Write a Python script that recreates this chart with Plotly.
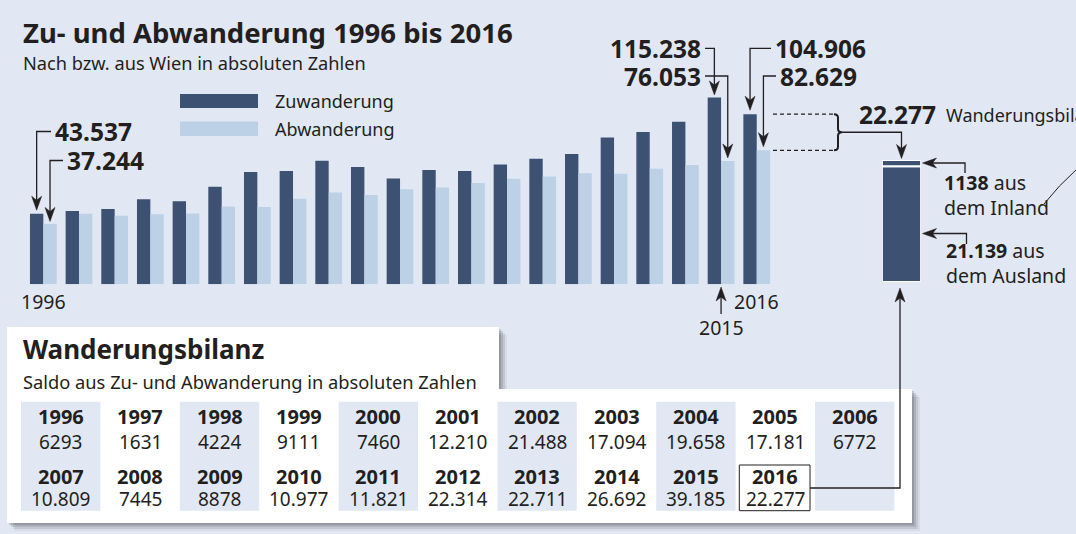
import plotly.graph_objects as go

W, H = 1076, 534

# ---------------- data ----------------
years = list(range(1996, 2017))
zuwanderung = [43537, 45190, 46420, 52380, 51140, 60180, 69220, 69840, 76200, 72300,
               65320, 70450, 69840, 73940, 77440, 80350, 90540, 93900, 100260, 115238, 104906]
abwanderung = [37244, 43560, 42200, 43270, 43680, 47970, 47730, 52750, 56540, 55120,
               58550, 59640, 62400, 65060, 66460, 68530, 68230, 71190, 73570, 76053, 82629]
saldo = [6293, 1631, 4224, 9111, 7460, 12210, 21488, 17094, 19658, 17181, 6772,
         10809, 7445, 8878, 10977, 11821, 22314, 22711, 26692, 39185, 22277]
bilanz_teile = [21139, 1138]          # aus dem Ausland, aus dem Inland
bilanz_texte = ["aus<br>dem Ausland", "aus<br>dem Inland"]
legend_labels = ["Zuwanderung", "Abwanderung"]
title = "Zu- und Abwanderung 1996 bis 2016"
subtitle = "Nach bzw. aus Wien in absoluten Zahlen"
table_title = "Wanderungsbilanz"
table_subtitle = "Saldo aus Zu- und Abwanderung in absoluten Zahlen"

# ---------------- style ----------------
BG = "#e1e8f4"
DARK = "#3d5273"
LIGHT = "#bcd0e6"
INK = "#231f20"
CELL = "#e1e8f4"
FONT = "Noto Sans"


def fmt(v):
    return f"{v:,}".replace(",", ".") if v >= 10000 else str(v)


# layout geometry (pixels)
S = 35.67      # px per year
X0 = 25.5      # pixel of x = 1995.5
B = 284.3      # baseline pixel
K = 616.7      # units per px


def xd(p):
    return 1995.5 + (p - X0) / S


def yd(p):
    return (B - p) * K


def px(p):
    return p / W


def py(p):
    return 1 - p / H


HALF = 0.1875  # offset of each bar from category centre

fig = go.Figure()
fig.add_bar(x=years, y=zuwanderung, name=legend_labels[0], hoverinfo="skip",
            marker=dict(color=DARK, line=dict(width=0)))
fig.add_bar(x=years, y=abwanderung, name=legend_labels[1], hoverinfo="skip",
            marker=dict(color=LIGHT, line=dict(width=0)))
fig.add_bar(x=[0], y=[bilanz_teile[0]], xaxis="x2", yaxis="y2", width=1, offsetgroup="b",
            hoverinfo="skip", marker=dict(color=DARK, line=dict(color="white", width=1.8)))
fig.add_bar(x=[0], y=[bilanz_teile[1]], base=[bilanz_teile[0]], xaxis="x2", yaxis="y2", width=1,
            offsetgroup="b", hoverinfo="skip",
            marker=dict(color=DARK, line=dict(color="white", width=1.8)))

shapes = []
anns = []

LW = 1.3


def dpath(pts, close=False):
    s = "M " + " L ".join(f"{x},{y}" for x, y in pts)
    return s + (" Z" if close else "")


def dline(pts):
    shapes.append(dict(type="path", xref="x", yref="y", path=dpath(pts),
                       line=dict(color=INK, width=LW)))


def pline(pts, width=LW):
    shapes.append(dict(type="path", xref="paper", yref="paper",
                       path=dpath([(px(a), py(b)) for a, b in pts]),
                       line=dict(color=INK, width=width)))


HEAD = [(0, 0), (-5, -14), (0, -10), (5, -14)]  # pointing down, pixel offsets


def rot(pts, d):
    if d == "down":
        return pts
    if d == "up":
        return [(x, -y) for x, y in pts]
    if d == "left":
        return [(-y, x) for x, y in pts]
    if d == "right":
        return [(y, x) for x, y in pts]


def dhead(xt, yt, d="down"):
    pts = [(xt + ox / S, yt - oy * K) for ox, oy in rot(HEAD, d)]
    shapes.append(dict(type="path", xref="x", yref="y", path=dpath(pts, True),
                       fillcolor=INK, line=dict(color=INK, width=0.5)))


def phead(xt, yt, d="down"):
    pts = [(px(xt + ox), py(yt + oy)) for ox, oy in rot(HEAD, d)]
    shapes.append(dict(type="path", xref="paper", yref="paper", path=dpath(pts, True),
                       fillcolor=INK, line=dict(color=INK, width=0.5)))


def ann(text, x, y, size, bold=False, xanchor="left", xref="paper", yref="paper", align="left"):
    if bold:
        text = f"<b>{text}</b>"
    anns.append(dict(text=text, x=x, y=y, xref=xref, yref=yref, xanchor=xanchor,
                     yanchor="middle", showarrow=False, align=align,
                     font=dict(family=FONT, size=size, color=INK)))


# ---- titles ----
ann(title, px(21), py(32), 27.5, bold=True)
ann(subtitle, px(21), py(63), 18.2)

# ---- legend ----
shapes.append(dict(type="rect", xref="paper", yref="paper", x0=px(180), x1=px(258),
                   y0=py(94), y1=py(108), fillcolor=DARK, line=dict(width=0)))
shapes.append(dict(type="rect", xref="paper", yref="paper", x0=px(180), x1=px(258),
                   y0=py(121.5), y1=py(136), fillcolor=LIGHT, line=dict(width=0)))
ann(legend_labels[0], px(273), py(101), 18)
ann(legend_labels[1], px(273), py(129), 18)

# ---- value callouts ----
DL = 24.5


def callout(i, series, side, label_px, label_py, gap, left=True):
    xc = years[i] + (-HALF if side == "zu" else HALF)
    v = series[i]
    tip = v + gap * K
    if left:
        start = label_px - 2
        ann(fmt(v), xd(label_px), yd(label_py), DL, bold=True, xanchor="left", xref="x", yref="y")
    else:
        start = label_px + 2
        ann(fmt(v), xd(label_px), yd(label_py), DL, bold=True, xanchor="right", xref="x", yref="y")
    dline([(xd(start), yd(label_py)), (xc, yd(label_py)), (xc, tip + 10 * K)])
    dhead(xc, tip, "down")


callout(0, zuwanderung, "zu", 53, 131.5, 3.5)
callout(0, abwanderung, "ab", 65, 160.5, 2.5)
callout(19, zuwanderung, "zu", 703, 48.3, 2.5, left=False)
callout(19, abwanderung, "ab", 703, 76, 3, left=False)
callout(20, zuwanderung, "zu", 773, 48.3, 4)
callout(20, abwanderung, "ab", 778, 76, 3.5)

# ---- year labels under bars ----
ann(str(years[0]), years[0], py(301), 19.5, xanchor="center", xref="x")
ann(str(years[-1]), years[-1], py(301), 19.5, xanchor="center", xref="x")
ann(str(years[-2]), years[-2], py(327), 19.5, xanchor="center", xref="x")
shapes.append(dict(type="path", xref="x", yref="paper",
                   path=dpath([(years[-2], py(314)), (years[-2], py(296))]),
                   line=dict(color=INK, width=LW)))
shapes.append(dict(type="path", xref="x", yref="paper",
                   path=dpath([(years[-2] + ox / S, py(287 - oy)) for ox, oy in HEAD], True),
                   fillcolor=INK, line=dict(color=INK, width=0.5)))

# ---- dashed lines + brace to balance ----
zt, at = zuwanderung[-1], abwanderung[-1]
mid = (zt + at) / 2
for yv in (zt, at):
    shapes.append(dict(type="line", xref="x", yref="y", x0=xd(773), x1=xd(834), y0=yv, y1=yv,
                       line=dict(color=INK, width=1.2, dash="4px,3px")))
r = 3.5
bx0, bxm, bxt = xd(834), xd(838), xd(842)
brace = (f"M {bx0},{zt} Q {bxm},{zt} {bxm},{zt - r * K} L {bxm},{mid + r * K} "
         f"Q {bxm},{mid} {bxt},{mid} Q {bxm},{mid} {bxm},{mid - r * K} "
         f"L {bxm},{at + r * K} Q {bxm},{at} {bx0},{at}")
shapes.append(dict(type="path", xref="x", yref="y", path=brace, line=dict(color=INK, width=2)))
dline([(bxt, mid), (xd(901.5), mid), (xd(901.5), yd(158.5) + 10 * K)])
dhead(xd(901.5), yd(158.5), "down")
ann(fmt(saldo[-1]), px(857), py(115), DL, bold=True)
ann(table_title, px(944), py(115), 18)

# ---- arrows to the balance bar parts ----
pline([(965, 173), (965, 163), (932, 163)])
phead(922.5, 163, "left")
ann(f"<b>{fmt(bilanz_teile[1])}</b> " + bilanz_texte[1], px(942), py(195), 19.5)
pline([(966.5, 244), (966.5, 233.5), (932, 233.5)])
phead(922.5, 233.5, "left")
ann(f"<b>{fmt(bilanz_teile[0])}</b> " + bilanz_texte[0], px(944), py(263.5), 19.5)
shapes.append(dict(type="path", xref="paper", yref="paper",
                   path=f"M {px(1044)},{py(204)} Q {px(1058)},{py(186)} {px(1078)},{py(168)}",
                   line=dict(color=INK, width=1)))

# ---- table box ----
box = [(7, 327), (499, 327), (499, 389), (912, 389), (912, 523), (7, 523)]
for off, op in [(8, 0.07), (6, 0.10), (4, 0.14), (2, 0.18)]:
    shapes.append(dict(type="path", xref="paper", yref="paper",
                       path=dpath([(px(a + off), py(b + off)) for a, b in box], True),
                       fillcolor=f"rgba(40,40,50,{op})", line=dict(width=0)))
shapes.append(dict(type="path", xref="paper", yref="paper",
                   path=dpath([(px(a), py(b)) for a, b in box], True),
                   fillcolor="white", line=dict(width=0)))
ann(table_title, px(21), py(349), 26, bold=True)
ann(table_subtitle, px(21), py(381), 18.3)

CW = 79.4
C0 = 21
for i in range(0, 11, 2):
    shapes.append(dict(type="rect", xref="paper", yref="paper", x0=px(C0 + CW * i),
                       x1=px(C0 + CW * (i + 1)), y0=py(401.7), y1=py(510.7),
                       fillcolor=CELL, line=dict(width=0)))
rows = [(years[:11], saldo[:11], 416, 442), (years[11:], saldo[11:], 476.5, 499)]
for yrs, vals, yy, vy in rows:
    for i, (yr, v) in enumerate(zip(yrs, vals)):
        cx = C0 + CW * (i + 0.5)
        ann(str(yr), px(cx), py(yy), 20, bold=True, xanchor="center")
        ann(fmt(v), px(cx), py(vy), 19, xanchor="center")
shapes.append(dict(type="rect", xref="paper", yref="paper", x0=px(739.3), x1=px(810),
                   y0=py(465), y1=py(510.7), line=dict(color=INK, width=1)))
pline([(810, 488), (900, 488), (900, 298)])
phead(900, 288, "up")

fig.update_layout(
    width=W, height=H, margin=dict(l=0, r=0, t=0, b=0),
    paper_bgcolor=BG, plot_bgcolor="rgba(0,0,0,0)",
    barmode="group", bargap=0.25, bargroupgap=0, showlegend=False,
    xaxis=dict(domain=[0, 1], range=[1995.5 - X0 / S, 1995.5 + (W - X0) / S], visible=False,
               fixedrange=True),
    yaxis=dict(domain=[1 - B / H, 1], range=[0, B * K], visible=False, fixedrange=True),
    xaxis2=dict(domain=[882 / W, 921 / W], range=[-0.5, 0.5], visible=False, anchor="y2",
                fixedrange=True),
    yaxis2=dict(domain=[1 - 282 / H, 1 - 160 / H], range=[0, sum(bilanz_teile)], visible=False,
                anchor="x2", fixedrange=True),
    shapes=shapes, annotations=anns,
    font=dict(family=FONT, color=INK),
)
fig.write_html("out.html", config={"displayModeBar": False},
               post_script="document.body.style.margin='0';document.body.style.overflow='hidden';")
